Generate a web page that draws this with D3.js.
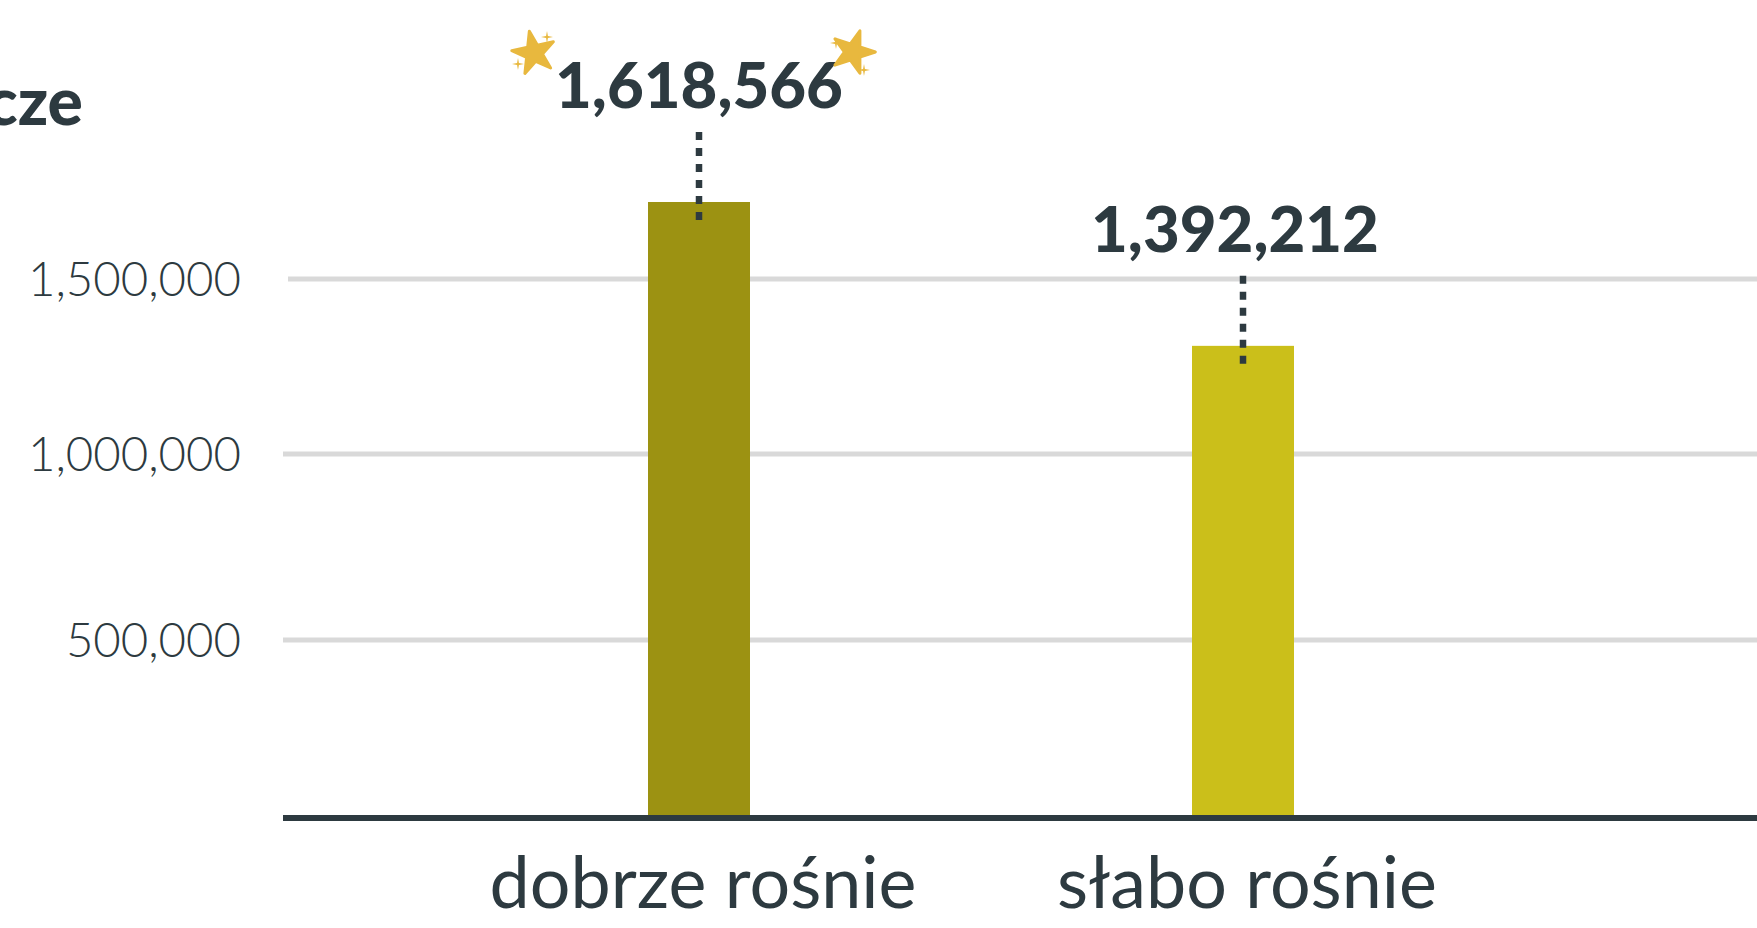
<!DOCTYPE html>
<html>
<head>
<meta charset="utf-8">
<script src="https://cdn.jsdelivr.net/npm/d3@7"></script>
<style>
  html, body { margin: 0; padding: 0; background: #ffffff; overflow: hidden; }
  svg { display: block; }
  text { font-family: Lato, "Open Sans", sans-serif; fill: #2d3a40; }
</style>
</head>
<body>
<svg id="chart" width="1757" height="928"></svg>
<script>
// ---- data ----
const categories = ["dobrze rośnie", "słabo rośnie"];
const labelValues = [1618566, 1392212];          // values printed above the bars
const barValues = [1720000, 1309000];            // bar lengths as drawn in the reference
const barColors = ["#9c9212", "#cbbf1a"];
const yTicks = [500000, 1000000, 1500000];
const titleText = "cze";

// ---- layout ----
const baseY = 818;
const plotLeft = 283, plotRight = 1757;
const barWidth = 102;
const ink = "#2d3a40";

const svg = d3.select("#chart");
const fmt = d3.format(",");

// the reference's gridlines are not evenly spaced; follow them piecewise
const y = d3.scaleLinear()
  .domain([0, 500000, 1000000, 1500000])
  .range([baseY, 640, 454, 279]);
const x = d3.scalePoint().domain(categories).range([427, 1515]).padding(0.5);

// title fragment (cut off at the left edge, as in the reference)
svg.append("text")
  .attr("x", 83).attr("y", 125)
  .attr("text-anchor", "end")
  .attr("font-size", 66).attr("font-weight", 900)
  .text(titleText);

// gridlines
svg.append("g").selectAll("line")
  .data(yTicks)
  .join("line")
  .attr("x1", d => d === 1500000 ? plotLeft + 5 : plotLeft)
  .attr("x2", plotRight)
  .attr("y1", d => y(d)).attr("y2", d => y(d))
  .attr("stroke", "#d9d9d9").attr("stroke-width", 5);

// y tick labels
const tickLabels = svg.append("g").selectAll("text")
  .data(yTicks)
  .join("text")
  .attr("x", 241)
  .attr("y", d => y(d))
  .attr("dy", "0.35em")
  .attr("text-anchor", "end")
  .attr("font-size", 50).attr("font-weight", 300)
  .text(d => fmt(d));
(function () {
  const n = tickLabels.filter(d => d === 1500000).node();
  const k = 213 / n.getComputedTextLength();
  tickLabels.attr("font-size", 50 * k);
})();

// bars
svg.append("g").selectAll("rect")
  .data(categories)
  .join("rect")
  .attr("x", d => x(d) - barWidth / 2)
  .attr("width", barWidth)
  .attr("y", (d, i) => y(barValues[i]))
  .attr("height", (d, i) => baseY - y(barValues[i]))
  .attr("fill", (d, i) => barColors[i]);

// baseline
svg.append("line")
  .attr("x1", plotLeft).attr("x2", plotRight)
  .attr("y1", baseY).attr("y2", baseY)
  .attr("stroke", ink).attr("stroke-width", 6);

// dotted leader lines
svg.append("g").selectAll("line")
  .data(categories)
  .join("line")
  .attr("x1", d => x(d)).attr("x2", d => x(d))
  .attr("y1", (d, i) => y(barValues[i]) - 70)
  .attr("y2", (d, i) => y(barValues[i]) + 18)
  .attr("stroke", ink).attr("stroke-width", 6.5)
  .attr("stroke-dasharray", "8 8");

// value labels
const valLabels = svg.append("g").selectAll("text")
  .data(categories)
  .join("text")
  .attr("x", (d, i) => x(d) - (i === 1 ? 8 : 0))
  .attr("y", (d, i) => y(barValues[i]) - 94)
  .attr("text-anchor", "middle")
  .attr("font-size", 64).attr("font-weight", 900)
  .text((d, i) => fmt(labelValues[i]));
(function () {
  const n = valLabels.filter((d, i) => i === 0).node();
  const k = 288 / n.getComputedTextLength();
  valLabels.attr("font-size", 64 * k);
})();

// category labels
const catLabels = svg.append("g").selectAll("text")
  .data(categories)
  .join("text")
  .attr("x", d => x(d) + 4)
  .attr("y", 908)
  .attr("text-anchor", "middle")
  .attr("font-size", 56).attr("font-weight", 400)
  .text(d => d);
(function () {
  const n = catLabels.filter((d, i) => i === 0).node();
  const k = 427 / n.getComputedTextLength();
  catLabels.attr("font-size", 56 * k);
})();

// decorative stars around the top value
const gold = "#e8b83e";
const stars = [
  { cx: 534, cy: 53, rot: -12 },
  { cx: 853, cy: 52, rot: 18 }
];
const sparkles = [
  { cx: 547, cy: 37, r: 6 }, { cx: 518, cy: 64, r: 6 },
  { cx: 836, cy: 43, r: 6 }, { cx: 864, cy: 70, r: 6 }
];
const starPath = d3.symbol().type(d3.symbolStar).size(560)();
svg.append("g").selectAll("path")
  .data(stars)
  .join("path")
  .attr("d", starPath)
  .attr("transform", d => `translate(${d.cx},${d.cy}) rotate(${d.rot})`)
  .attr("fill", gold).attr("stroke", gold)
  .attr("stroke-width", 3).attr("stroke-linejoin", "round");

function sparklePath(r) {
  const p = d3.path();
  const ri = r * 0.22;
  for (let k = 0; k < 8; k++) {
    const a = k * Math.PI / 4 - Math.PI / 2;
    const rr = k % 2 === 0 ? r : ri;
    const px = rr * Math.cos(a), py = rr * Math.sin(a);
    if (k === 0) p.moveTo(px, py); else p.lineTo(px, py);
  }
  p.closePath();
  return p.toString();
}
svg.append("g").selectAll("path")
  .data(sparkles)
  .join("path")
  .attr("d", d => sparklePath(d.r))
  .attr("transform", d => `translate(${d.cx},${d.cy})`)
  .attr("fill", gold);
</script>
</body>
</html>
